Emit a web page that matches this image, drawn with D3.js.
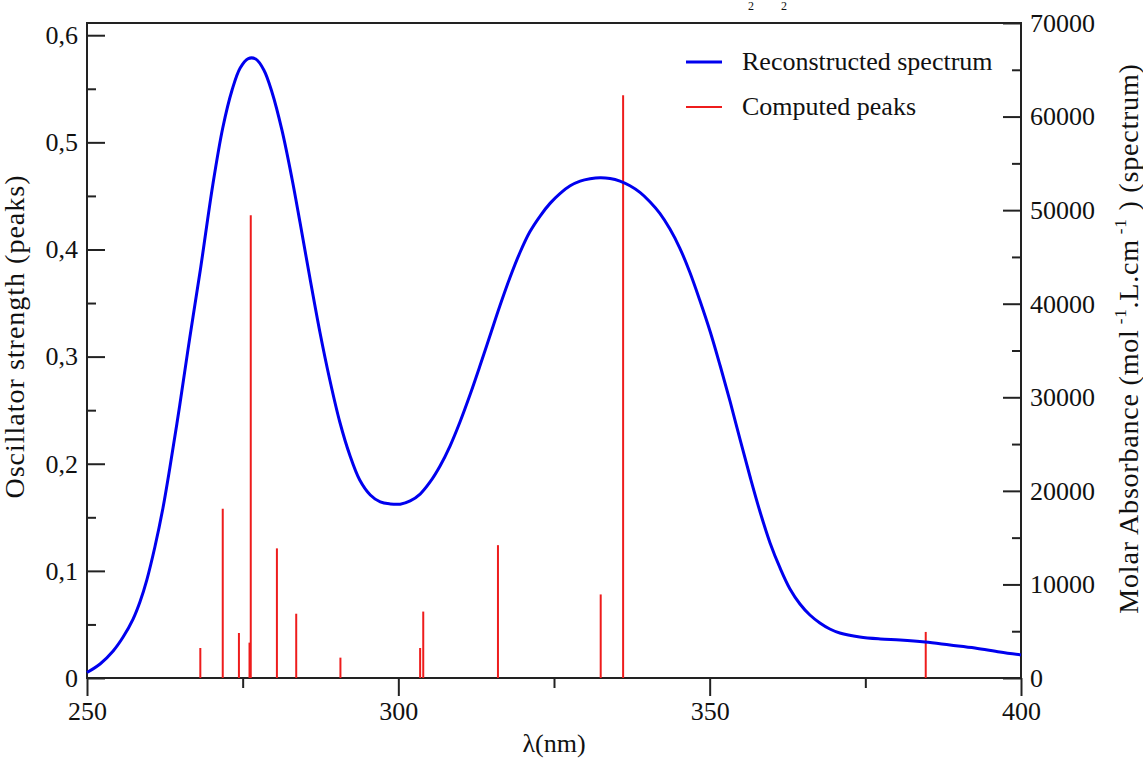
<!DOCTYPE html>
<html>
<head>
<meta charset="utf-8">
<script src="https://cdn.jsdelivr.net/npm/d3@7"></script>
<style>
  body { margin: 0; background: #fff; }
  svg text { font-family: "Liberation Serif", "Times New Roman", serif; fill: #111; }
</style>
</head>
<body>
<div id="chart"></div>
<script>
// spectrum: wavelength in nm, molar absorbance
const specWl = [250.0, 252.1, 254.2, 255.8, 257.4, 258.5, 259.6, 260.9, 262.2, 263.3,
  264.9, 266.5, 268.2, 270.2, 271.8, 273.3, 274.6, 275.9, 277.1, 278.4,
  279.7, 281.3, 282.9, 284.2, 285.8, 287.4, 289.0, 290.6, 292.2, 293.8,
  295.5, 297.1, 298.7, 300.3, 301.9, 303.5, 305.1, 306.7, 308.3, 309.9,
  311.5, 313.1, 314.7, 316.3, 317.9, 319.5, 321.1, 322.8, 324.4, 326.0,
  327.6, 329.2, 330.8, 332.4, 334.0, 335.6, 337.2, 338.8, 340.4, 342.0,
  343.6, 345.2, 346.8, 348.4, 350.1, 351.7, 353.3, 354.9, 356.5, 358.1,
  359.7, 361.3, 362.9, 364.5, 366.1, 367.7, 369.3, 370.9, 374.1, 377.4,
  380.6, 384.6, 388.6, 392.6, 396.6, 400.0];
const specEps = [590, 1500, 2890, 4380, 6300, 8120, 10470, 14000, 18170, 22440,
  29180, 36340, 43600, 52690, 58780, 62840, 65190, 66200, 66150, 64980,
  62630, 58570, 53440, 48730, 42750, 36980, 31850, 27360, 23830, 21160,
  19560, 18810, 18600, 18580, 18920, 19660, 20950, 22660, 24790, 27360,
  30240, 33340, 36550, 39760, 42750, 45420, 47660, 49400, 50750, 51800,
  52600, 53100, 53350, 53460, 53380, 53100, 52600, 51900, 50900, 49650,
  48000, 45950, 43390, 40400, 36980, 33340, 29500, 25440, 21480, 17740,
  14430, 11760, 9510, 7910, 6730, 5880, 5240, 4810, 4380, 4170,
  4060, 3850, 3530, 3210, 2780, 2460];

// computed peaks: wavelength in nm, oscillator strength
const peakWl = [268.2, 271.8, 274.4, 276.1, 276.3, 280.5, 283.6, 290.7, 303.5, 304.0, 316.0, 332.5, 336.1, 384.7];
const peakF = [0.028, 0.158, 0.042, 0.033, 0.432, 0.121, 0.060, 0.019, 0.028, 0.062, 0.124, 0.078, 0.544, 0.043];

const xTicks = [250, 300, 350, 400];
const fTicks = [0, 0.1, 0.2, 0.3, 0.4, 0.5, 0.6];
const epsTicks = [0, 10000, 20000, 30000, 40000, 50000, 60000, 70000];

const svgWidth = 1143;
const svgHeight = 758;
const margin = { top: 23, right: 122, bottom: 80, left: 87 };
const width = svgWidth - margin.left - margin.right;
const height = svgHeight - margin.top - margin.bottom;
const blue = "#0000ee";
const red = "#ee1c1c";
const serif = '"Liberation Serif", "Times New Roman", serif';

const root = d3.select("#chart").append("svg")
  .attr("width", svgWidth)
  .attr("height", svgHeight);

// title remnants at the top edge
root.append("text").attr("x", 748).attr("y", 10).style("font-size", "12px").attr("fill", "#333").text("2");
root.append("text").attr("x", 781).attr("y", 10).style("font-size", "12px").attr("fill", "#333").text("2");

const svg = root.append("g")
  .attr("transform", `translate(${margin.left},${margin.top})`);

const x = d3.scaleLinear().domain([250, 400]).range([0, width]);
const yF = d3.scaleLinear().domain([0, 0.6114]).range([height, 0]);
const yE = d3.scaleLinear().domain([0, 70000]).range([height, 0]);

// -------------------- axes --------------------
const fmtComma = d => d === 0 ? "0" : d3.format(".1f")(d).replace(".", ",");

svg.append("g").attr("class", "minor")
  .call(d3.axisLeft(yF).tickValues(d3.range(0.05, 0.6, 0.1)).tickSize(-9).tickFormat(""));
svg.append("g").attr("class", "y-axis")
  .call(d3.axisLeft(yF).tickValues(fTicks).tickSize(-18).tickPadding(9).tickFormat(fmtComma));

svg.append("g").attr("class", "minor")
  .attr("transform", `translate(${width},0)`)
  .call(d3.axisRight(yE).tickValues(d3.range(5000, 70000, 10000)).tickSize(-9).tickFormat(""));
svg.append("g").attr("class", "y2-axis")
  .attr("transform", `translate(${width},0)`)
  .call(d3.axisRight(yE).tickValues(epsTicks).tickSize(-18).tickPadding(9).tickFormat(d3.format("d")));

svg.append("g").attr("class", "minor")
  .attr("transform", `translate(0,${height})`)
  .call(d3.axisBottom(x).tickValues([275, 325, 375]).tickSize(10).tickFormat(""));
svg.append("g").attr("class", "x-axis")
  .attr("transform", `translate(0,${height})`)
  .call(d3.axisBottom(x).tickValues(xTicks).tickSize(18).tickPadding(6));

svg.selectAll(".domain").remove();
svg.selectAll(".tick line").attr("stroke", "#222").attr("stroke-width", 2);
svg.selectAll(".tick text")
  .style("font-family", serif)
  .style("font-size", "26px")
  .style("fill", "#111");

// frame
svg.append("rect")
  .attr("width", width).attr("height", height)
  .attr("fill", "none").attr("stroke", "#222").attr("stroke-width", 2);

// -------------------- data --------------------
svg.selectAll(".peak")
  .data(peakWl)
  .enter().append("line")
  .attr("class", "peak")
  .attr("x1", d => x(d)).attr("x2", d => x(d))
  .attr("y1", yF(0))
  .attr("y2", (d, i) => yF(peakF[i]))
  .attr("stroke", red).attr("stroke-width", 2);

const line = d3.line()
  .x(d => x(d))
  .y((d, i) => yE(specEps[i]))
  .curve(d3.curveCatmullRom.alpha(0.5));

svg.append("path")
  .datum(specWl)
  .attr("d", line)
  .attr("fill", "none")
  .attr("stroke", blue)
  .attr("stroke-width", 3);

// -------------------- labels --------------------
svg.append("text")
  .attr("x", width / 2).attr("y", height + 74)
  .attr("text-anchor", "middle").style("font-size", "26px")
  .text("λ(nm)");

svg.append("text")
  .attr("transform", `translate(${-63},${height / 2 - 14}) rotate(-90)`)
  .attr("text-anchor", "middle").style("font-size", "28px").style("letter-spacing", "1px")
  .text("Oscillator strength (peaks)");

const rt = svg.append("text")
  .attr("transform", `translate(${width + 117},${height / 2 - 12}) rotate(-90)`)
  .attr("text-anchor", "middle").style("font-size", "28px").style("letter-spacing", "0.8px");
rt.append("tspan").text("Molar Absorbance (mol");
rt.append("tspan").attr("dy", -12).style("font-size", "17px").text(" -1");
rt.append("tspan").attr("dy", 12).text(".L.cm");
rt.append("tspan").attr("dy", -12).style("font-size", "17px").text(" -1");
rt.append("tspan").attr("dy", 12).text(" ) (spectrum)");

// legend
const legend = svg.append("g").attr("transform", `translate(${686 - margin.left},${62 - margin.top})`);
const legendItems = [["Reconstructed spectrum", blue], ["Computed peaks", red]];
legendItems.forEach((it, i) => {
  const g = legend.append("g").attr("transform", `translate(0,${i * 45})`);
  g.append("line").attr("x1", 0).attr("x2", 36).attr("stroke", it[1]).attr("stroke-width", i === 0 ? 3 : 2);
  g.append("text").attr("x", 56).attr("y", 8).style("font-size", "26px").text(it[0]);
});
</script>
</body>
</html>
